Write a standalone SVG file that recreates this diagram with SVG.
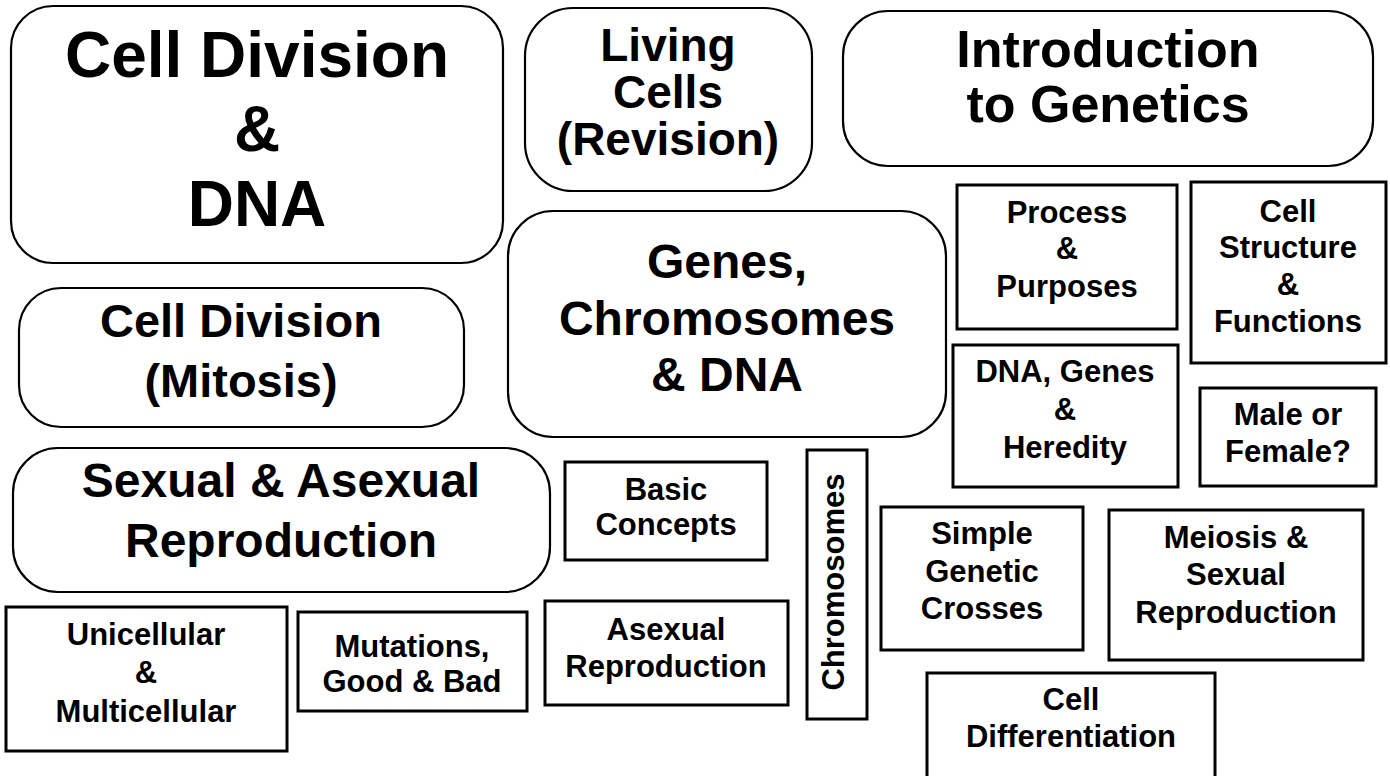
<svg xmlns="http://www.w3.org/2000/svg" width="1390" height="776" viewBox="0 0 1390 776">
<style>
.rb{fill:#fff;stroke:#000;stroke-width:2.2}
.sb{fill:#fff;stroke:#000;stroke-width:3}
text{font-family:"Liberation Sans",Arial,sans-serif;font-weight:bold;fill:#000;text-anchor:middle}
.s{font-size:31px}
</style>
<rect x="0" y="0" width="1390" height="776" fill="#fff"/>
<g id="connectors"/>
<g id="cell-division-dna">
<rect class="rb" x="11" y="6" width="492" height="257" rx="42"/>
<text x="257" y="77" font-size="64">Cell Division</text>
<text x="257" y="151" font-size="64">&amp;</text>
<text x="257" y="226" font-size="64">DNA</text>
</g>
<g id="living-cells">
<rect class="rb" x="525" y="8" width="287" height="183" rx="48"/>
<text x="668" y="61" font-size="46">Living</text>
<text x="668" y="108" font-size="46">Cells</text>
<text x="668" y="155" font-size="46">(Revision)</text>
</g>
<g id="intro-genetics">
<rect class="rb" x="843" y="11" width="530" height="155" rx="45"/>
<text x="1108" y="67" font-size="52">Introduction</text>
<text x="1108" y="122" font-size="52">to Genetics</text>
</g>
<g id="genes-chromosomes-dna">
<rect class="rb" x="508" y="211" width="438" height="226" rx="45"/>
<text x="727" y="278" font-size="48">Genes,</text>
<text x="727" y="335" font-size="48">Chromosomes</text>
<text x="727" y="391" font-size="48">&amp; DNA</text>
</g>
<g id="cell-division-mitosis">
<rect class="rb" x="19" y="288" width="445" height="139" rx="42"/>
<text x="241" y="337" font-size="47">Cell Division</text>
<text x="241" y="397" font-size="47">(Mitosis)</text>
</g>
<g id="sexual-asexual">
<rect class="rb" x="13" y="448" width="537" height="144" rx="45"/>
<text x="281" y="497" font-size="48">Sexual &amp; Asexual</text>
<text x="281" y="557" font-size="48">Reproduction</text>
</g>
<g id="process-purposes">
<rect class="sb" x="957" y="185" width="220" height="144"/>
<text class="s" x="1067" y="223">Process</text>
<text class="s" x="1067" y="259">&amp;</text>
<text class="s" x="1067" y="297">Purposes</text>
</g>
<g id="cell-structure">
<rect class="sb" x="1191" y="182" width="195" height="181"/>
<text class="s" x="1288" y="222">Cell</text>
<text class="s" x="1288" y="258">Structure</text>
<text class="s" x="1288" y="295">&amp;</text>
<text class="s" x="1288" y="332">Functions</text>
</g>
<g id="dna-genes-heredity">
<rect class="sb" x="953" y="345" width="225" height="142"/>
<text class="s" x="1065" y="382">DNA, Genes</text>
<text class="s" x="1065" y="420">&amp;</text>
<text class="s" x="1065" y="458">Heredity</text>
</g>
<g id="male-female">
<rect class="sb" x="1200" y="388" width="176" height="98"/>
<text class="s" x="1288" y="425">Male or</text>
<text class="s" x="1288" y="462">Female?</text>
</g>
<g id="basic-concepts">
<rect class="sb" x="565" y="462" width="202" height="98"/>
<text class="s" x="666" y="500">Basic</text>
<text class="s" x="666" y="535">Concepts</text>
</g>
<g id="chromosomes">
<rect class="sb" x="807" y="450" width="60" height="269"/>
<text class="s" transform="translate(844,582) rotate(-90)">Chromosomes</text>
</g>
<g id="simple-crosses">
<rect class="sb" x="881" y="507" width="202" height="143"/>
<text class="s" x="982" y="544">Simple</text>
<text class="s" x="982" y="582">Genetic</text>
<text class="s" x="982" y="619">Crosses</text>
</g>
<g id="meiosis">
<rect class="sb" x="1109" y="510" width="254" height="150"/>
<text class="s" x="1236" y="548">Meiosis &amp;</text>
<text class="s" x="1236" y="585">Sexual</text>
<text class="s" x="1236" y="623">Reproduction</text>
</g>
<g id="unicellular">
<rect class="sb" x="6" y="607" width="281" height="144"/>
<text class="s" x="146" y="645">Unicellular</text>
<text class="s" x="146" y="683">&amp;</text>
<text class="s" x="146" y="722">Multicellular</text>
</g>
<g id="mutations">
<rect class="sb" x="298" y="612" width="229" height="99"/>
<text class="s" x="412" y="657">Mutations,</text>
<text class="s" x="412" y="692">Good &amp; Bad</text>
</g>
<g id="asexual-reproduction">
<rect class="sb" x="545" y="601" width="243" height="104"/>
<text class="s" x="666" y="640">Asexual</text>
<text class="s" x="666" y="677">Reproduction</text>
</g>
<g id="cell-differentiation">
<rect class="sb" x="927" y="673" width="288" height="110"/>
<text class="s" x="1071" y="710">Cell</text>
<text class="s" x="1071" y="747">Differentiation</text>
</g>
</svg>
